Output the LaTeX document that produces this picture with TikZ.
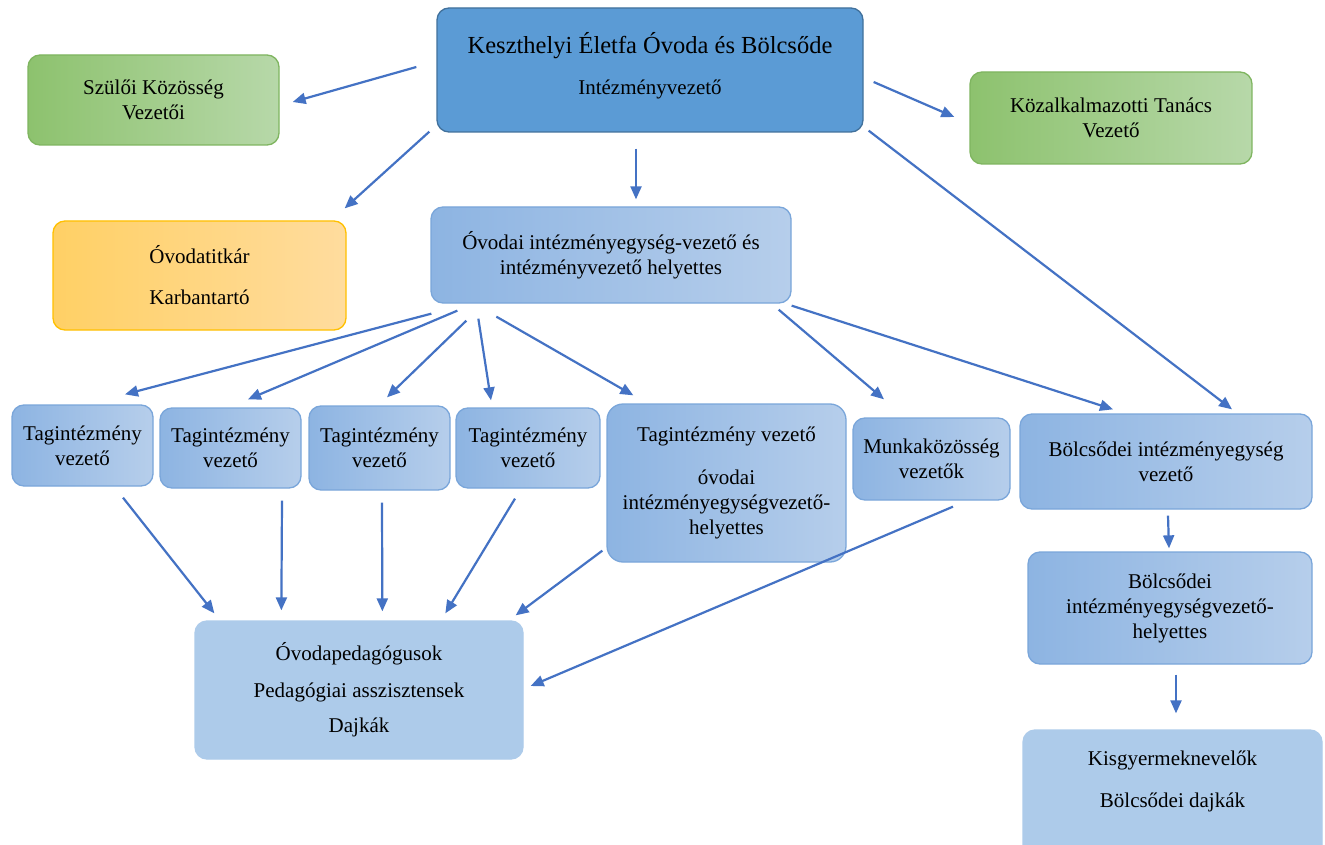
\documentclass[tikz,border=0pt]{standalone}
\usepackage{fontspec}
\setmainfont{Liberation Serif}
\usepackage{xcolor}
\usepackage{tikz}
\usetikzlibrary{arrows.meta}
\definecolor{arrc}{HTML}{4472C4}
\definecolor{bossc}{HTML}{5B9BD5}
\definecolor{bossbd}{HTML}{41719C}
\definecolor{grl}{HTML}{8DC26E}
\definecolor{grr}{HTML}{B7D8A9}
\definecolor{grbd}{HTML}{7FB560}
\definecolor{orl}{HTML}{FFD065}
\definecolor{orr}{HTML}{FFDC9E}
\definecolor{orbd}{HTML}{FFC000}
\definecolor{unl}{HTML}{8DB4E2}
\definecolor{unr}{HTML}{B6CEEB}
\definecolor{unbd}{HTML}{7AA6DA}
\definecolor{stc}{HTML}{ADCBEA}
\tikzset{
  ar/.style={-{Triangle[length=13pt,width=11pt]},line width=2.2pt,arrc},
  box/.style={rounded corners=12pt,line width=1.3pt,align=center,inner sep=3pt,font=\fontsize{21}{25}\selectfont},
  bossbox/.style={box,fill=bossc,draw=bossbd},
  grbox/.style={box,left color=grl,right color=grr,draw=grbd},
  orbox/.style={box,left color=orl,right color=orr,draw=orbd},
  unbox/.style={box,left color=unl,right color=unr,draw=unbd},
  stbox/.style={box,fill=stc,draw=stc}
}

\begin{document}
\begin{tikzpicture}[x=1pt,y=-1pt]
\useasboundingbox[fill=white] (0,0) rectangle (1325,845);
% top level
\node[bossbox,minimum width=426pt,minimum height=124pt] (top) at (650,70)
  {{\fontsize{24.5}{29}\selectfont Keszthelyi Életfa Óvoda és Bölcsőde}\\[16pt]Intézményvezető\\[-12pt]\mbox{}};
\node[grbox,minimum width=251pt,minimum height=90pt] (szul) at (153.5,100) {Szülői Közösség\\Vezetői};
\node[grbox,minimum width=282pt,minimum height=92pt] (kozalk) at (1111,118) {Közalkalmazotti Tanács\\Vezető};
\node[orbox,minimum width=293pt,minimum height=109pt] (titk) at (199.5,275.5) {Óvodatitkár\\[16pt]Karbantartó};
\node[unbox,minimum width=360pt,minimum height=96pt] (ovi) at (611,255) {Óvodai intézményegység-vezető és\\intézményvezető helyettes};
% middle row
\node[unbox,minimum width=141pt,minimum height=81pt] (tag1) at (82.5,445.5) {Tagintézmény\\vezető};
\node[unbox,minimum width=141pt,minimum height=80pt] (tag2) at (230.5,448) {Tagintézmény\\vezető};
\node[unbox,minimum width=141pt,minimum height=84pt] (tag3) at (379.5,448) {Tagintézmény\\vezető};
\node[unbox,minimum width=144pt,minimum height=80pt] (tag4) at (528,448) {Tagintézmény\\vezető};
\node[unbox,minimum width=239pt,minimum height=158pt,rounded corners=16pt] (tag5) at (726.5,483)
  {Tagintézmény vezető\\[18pt]óvodai\\intézményegységvezető-\\helyettes};
\node[unbox,minimum width=157pt,minimum height=82pt] (munka) at (931.5,459) {Munkaközösség\\vezetők};
\node[unbox,minimum width=292pt,minimum height=95pt] (bolcs) at (1166,461.5) {Bölcsődei intézményegység\\vezető};
\node[unbox,minimum width=284pt,minimum height=112pt] (bhely) at (1170,608) {Bölcsődei\\intézményegységvezető-\\helyettes};
% staff
\node[stbox,minimum width=328pt,minimum height=138pt] (peda) at (359,690)
  {Óvodapedagógusok\\[12pt]Pedagógiai asszisztensek\\[10pt]Dajkák};
\node[stbox,minimum width=299pt,minimum height=140pt] (kisgy) at (1172.5,800)
  {Kisgyermeknevelők\\[17pt]Bölcsődei dajkák\\[16pt]\mbox{}};
% arrows from the head
\draw[ar] ([shift={(-20,-3)}]top.west) -- ([shift={(13,2)}]szul.east);
\draw[ar] ([shift={(-7,-1)}]top.south west) -- ([shift={(-2,-12)}]titk.north east);
\draw[ar] ([shift={(-14,16)}]top.south) -- ([shift={(25,-7)}]ovi.north);
\draw[ar] ([shift={(10,12)}]top.east) -- ([shift={(-15,-1)}]kozalk.west);
\draw[ar] ([shift={(5,-2)}]top.south east) -- ([shift={(66,-4)}]bolcs.north);
% arrows from the deputy
\draw[ar] ([shift={(1,10)}]ovi.south west) -- ([shift={(42.5,-10)}]tag1.north);
\draw[ar] ([shift={(27,7)}]ovi.south west) -- ([shift={(17.5,-8)}]tag2.north);
\draw[ar] ([shift={(36,17)}]ovi.south west) -- ([shift={(7.5,-8)}]tag3.north);
\draw[ar] ([shift={(48,15)}]ovi.south west) -- ([shift={(-37,-7)}]tag4.north);
\draw[ar] ([shift={(66,13)}]ovi.south west) -- ([shift={(27,-8)}]tag5.north west);
\draw[ar] ([shift={(-13,6)}]ovi.south east) -- ([shift={(-47.5,-18)}]munka.north);
\draw[ar] ([shift={(0,2)}]ovi.south east) -- ([shift={(-53,-4)}]bolcs.north);
% arrows to the staff
\draw[ar] ([shift={(40.5,11)}]tag1.south) -- ([shift={(20,-7)}]peda.north west);
\draw[ar] ([shift={(51.5,12)}]tag2.south) -- ([shift={(87,-10)}]peda.north west);
\draw[ar] ([shift={(2.5,12)}]tag3.south) -- ([shift={(188,-9)}]peda.north west);
\draw[ar] ([shift={(-13,10)}]tag4.south) -- ([shift={(251,-7)}]peda.north west);
\draw[ar] ([shift={(-4,-12)}]tag5.south west) -- ([shift={(-8,-5)}]peda.north east);
\draw[ar] ([shift={(21.5,6)}]munka.south) -- ([shift={(7,-4)}]peda.east);
\draw[ar] ([shift={(2,6)}]bolcs.south) -- ([shift={(-1,-3)}]bhely.north);
\draw[ar] ([shift={(6,10)}]bhely.south) -- ([shift={(3.5,-16)}]kisgy.north);
\end{tikzpicture}
\end{document}
